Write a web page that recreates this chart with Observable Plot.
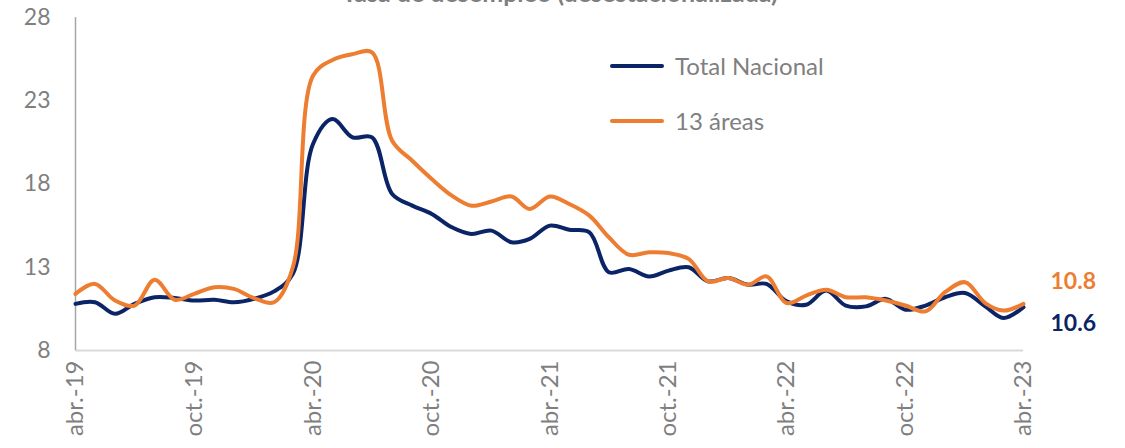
<!DOCTYPE html>
<html>
<head>
<meta charset="utf-8">
<script src="https://cdn.jsdelivr.net/npm/d3@7"></script>
<script src="https://cdn.jsdelivr.net/npm/@observablehq/plot@0.6"></script>
<style>
  html, body { margin: 0; padding: 0; background: #ffffff; }
  #wrap { position: relative; width: 1125px; height: 448px; overflow: hidden; font-family: Lato, "Open Sans", sans-serif; }
  #title { position: absolute; top: -21px; left: 80px; width: 960px; text-align: center; font-size: 25px; font-weight: bold; color: #7f7f7f; line-height: 26px; white-space: nowrap; }
  .leg { position: absolute; left: 610px; display: flex; align-items: center; font-size: 24px; color: #7f7f7f; }
  .leg span.sw { display: inline-block; width: 54px; height: 4px; border-radius: 2px; margin-right: 11px; }
</style>
</head>
<body>
<div id="wrap">
  <div id="chart"></div>
  <div id="title">Tasa de desempleo (desestacionalizada)</div>
  <div class="leg" style="top:51px"><span class="sw" style="background:#0a2466"></span>Total Nacional</div>
  <div class="leg" style="top:106px"><span class="sw" style="background:#ed7d31"></span>13 áreas</div>
</div>
<script>
// Monthly series, abr.-2019 to abr.-2023
const seriesNames = ["Total Nacional", "13 áreas"];
const totalNacional = [10.8,10.9,10.2,10.8,11.2,11.15,11.0,11.05,10.9,11.1,11.55,12.6,
  20.4,21.9,20.8,20.8,17.4,16.7,16.2,15.4,15.0,15.2,14.5,14.7,
  15.5,15.25,15.1,12.7,12.9,12.45,12.8,13.0,12.15,12.35,11.95,12.0,
  10.95,10.75,11.6,10.7,10.65,11.1,10.45,10.7,11.2,11.45,10.65,9.95,10.6];
const areas13 = [11.4,12.0,11.0,10.7,12.25,11.05,11.4,11.8,11.7,11.15,10.9,13.0,
  24.5,25.45,25.8,25.9,20.6,19.4,18.3,17.3,16.7,16.95,17.25,16.5,
  17.25,16.8,16.1,14.8,13.75,13.9,13.85,13.5,12.15,12.35,11.95,12.45,
  10.85,11.3,11.65,11.2,11.2,11.0,10.7,10.35,11.5,12.1,10.85,10.4,10.8];
const yTicks = [8, 13, 18, 23, 28];
const xTickLabels = ["abr.-19","oct.-19","abr.-20","oct.-20","abr.-21","oct.-21","abr.-22","oct.-22","abr.-23"];

const navy = "#0a2466";
const orange = "#ed7d31";

const months = d3.utcMonths(new Date(Date.UTC(2019, 3, 1)), new Date(Date.UTC(2023, 4, 1)));
const xTickDates = months.filter((d, i) => i % 6 === 0);
const labelMap = new Map(xTickDates.map((d, i) => [d.getTime(), xTickLabels[i]]));

const navyData = months.map((d, i) => ({date: d, value: totalNacional[i], serie: seriesNames[0]}));
const orangeData = months.map((d, i) => ({date: d, value: areas13[i], serie: seriesNames[1]}));
const lastN = navyData[navyData.length - 1];
const lastO = orangeData[orangeData.length - 1];

const chart = Plot.plot({
  width: 1125,
  height: 448,
  marginLeft: 75,
  marginRight: 102,
  marginTop: 17,
  marginBottom: 98,
  style: {fontFamily: "Lato, 'Open Sans', sans-serif", fontSize: "23px", color: "#7f7f7f", background: "transparent", overflow: "visible"},
  x: {type: "utc", domain: [months[0], months[months.length - 1]]},
  y: {domain: [8, 28]},
  marks: [
    Plot.ruleY([8], {stroke: "#d9d9d9", strokeWidth: 2}),
    Plot.ruleX([months[0]], {y1: 8, y2: 28, stroke: "#a6a6a6", strokeWidth: 1.5}),
    Plot.axisY({ticks: yTicks, tickSize: 0, tickPadding: 25, fontSize: 23, label: null}),
    Plot.axisX({ticks: xTickDates, tickFormat: d => labelMap.get(d.getTime()), tickRotate: -90, tickSize: 0, tickPadding: 10, fontSize: 24, label: null}),
    Plot.line(navyData, {x: "date", y: "value", stroke: navy, strokeWidth: 4, curve: "catmull-rom"}),
    Plot.line(orangeData, {x: "date", y: "value", stroke: orange, strokeWidth: 4, curve: "catmull-rom"}),
    Plot.text([lastO], {x: "date", y: "value", text: d => d.value.toFixed(1), dx: 27, dy: -22, textAnchor: "start", fill: orange, fontWeight: "bold", fontSize: 23}),
    Plot.text([lastN], {x: "date", y: "value", text: d => d.value.toFixed(1), dx: 27, dy: 16, textAnchor: "start", fill: navy, fontWeight: "bold", fontSize: 23})
  ]
});
document.getElementById("chart").appendChild(chart);
</script>
</body>
</html>
